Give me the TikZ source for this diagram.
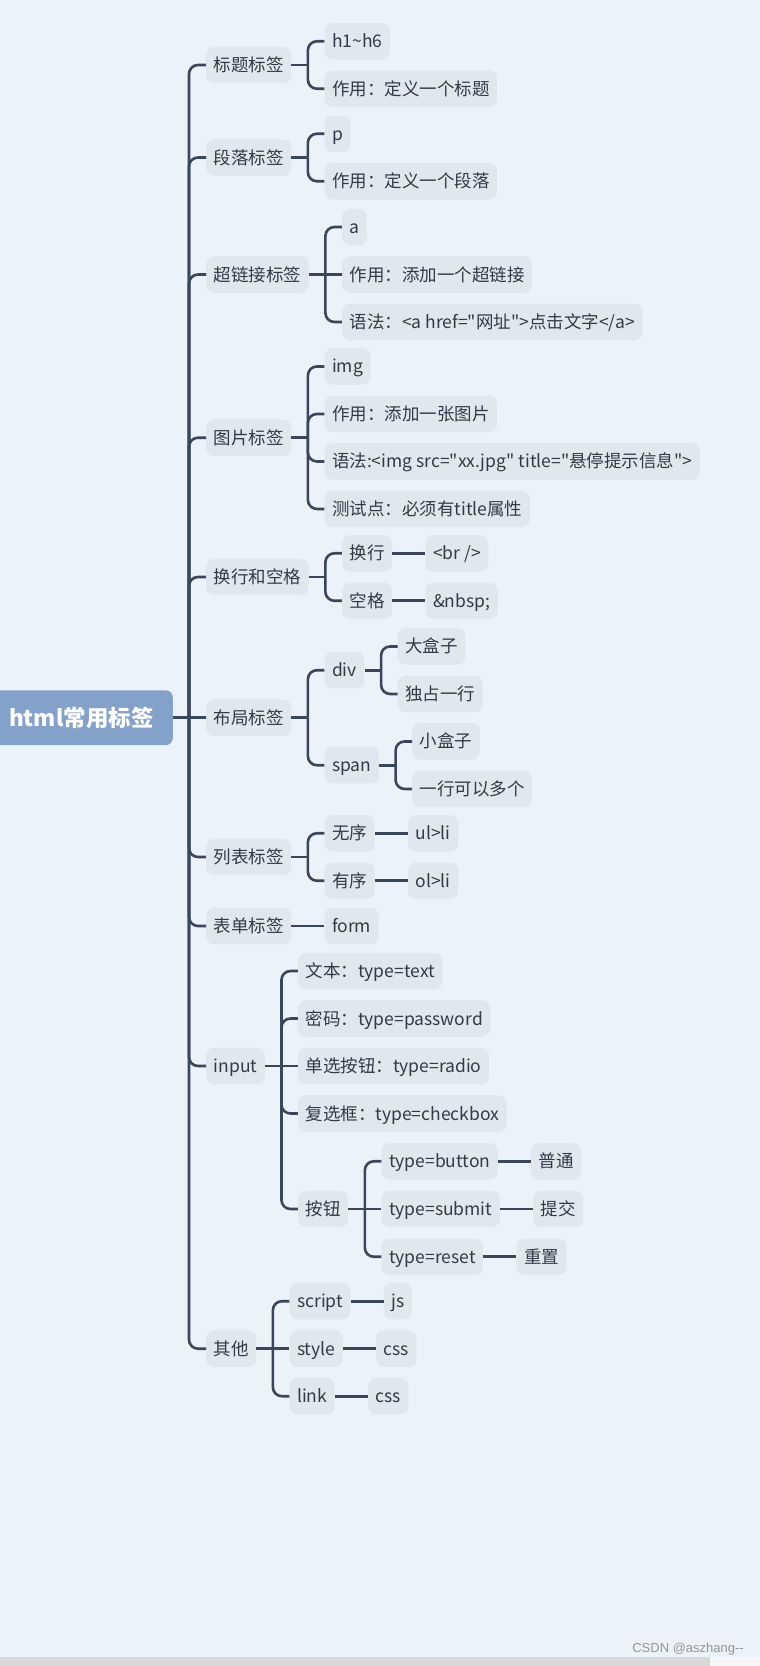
\documentclass[tikz,border=0pt]{standalone}
\usepackage{fontspec}
\setmainfont{Noto Sans CJK SC}[Ligatures=TeXOff]
\newfontfamily\wmfont{Liberation Sans}
\usetikzlibrary{calc}
\definecolor{bgc}{RGB}{236,242,250}
\definecolor{nodefill}{RGB}{225,231,239}
\definecolor{linec}{RGB}{58,70,90}
\definecolor{textc}{RGB}{50,58,72}
\definecolor{rootc}{RGB}{132,162,201}
\definecolor{wmc}{RGB}{150,150,150}
\definecolor{barc}{RGB}{216,216,216}
\definecolor{barc2}{RGB}{246,246,246}
\tikzset{
  box/.style={fill=nodefill, rounded corners=8pt, minimum height=36.5pt, inner xsep=7.5pt, inner ysep=0pt,
    text height=15.2pt, text depth=2.2pt, font=\fontsize{17.5}{20}\selectfont, text=textc, anchor=west},
  rootbox/.style={fill=rootc, rounded corners=7pt, minimum width=183pt, minimum height=54.7pt, inner sep=0pt,
    text height=19.5pt, text depth=2.8pt,
    text=white, font=\fontsize{22.5}{26}\selectfont\bfseries, anchor=east},
  conn/.style={draw=linec, line width=2.6pt},
  br/.style={conn, rounded corners=9pt},
}
\begin{document}
\begin{tikzpicture}[x=1pt,y=-1pt]
\fill[bgc] (0,0) rectangle (760,1666);
\useasboundingbox (0,0) rectangle (760,1666);
\fill[barc] (0,1657) rectangle (710,1666);
\fill[barc2] (710,1657) rectangle (760,1666);
\node[anchor=east, text=wmc, font=\wmfont\fontsize{13}{15}\selectfont, inner sep=0pt] (wm) at (744,1649) {CSDN @aszhang-{}-};

% root
\node[rootbox] (root) at (173,717.7) {html常用标签};
\coordinate (rj) at ($(root.east)+(16,0)$);

% level 1
\node[box] (l1) at (206,65) {标题标签};
\node[box] (l2) at (206,157.5) {段落标签};
\node[box] (l3) at (206,274.5) {超链接标签};
\node[box] (l4) at (206,437.7) {图片标签};
\node[box] (l5) at (206,577) {换行和空格};
\node[box] (l6) at (206,717.7) {布局标签};
\node[box] (l7) at (206,857) {列表标签};
\node[box] (l8) at (206,926) {表单标签};
\node[box] (l9) at (206,1066) {input};
\node[box] (l10) at (206,1348.7) {其他};

\draw[conn] (root.east) -- (rj);
\foreach \n in {l1,l2,l3,l4,l5,l7,l8,l9,l10} {\draw[br] (rj) |- (\n.west);}
\draw[conn] (rj) -- (l6.west);

% 标题标签
\node[box] (c11) at ($(l1.east)+(33,-23.75)$) {h1\textasciitilde h6};
\node[box] (c12) at ($(l1.east)+(33,23.75)$) {作用：定义一个标题};
\coordinate (j1) at ($(l1.east)+(16.5,0)$);
\draw[conn] (l1.east) -- (j1);
\draw[br] (j1) |- (c11.west);
\draw[br] (j1) |- (c12.west);

% 段落标签
\node[box] (c21) at ($(l2.east)+(33,-23.75)$) {p};
\node[box] (c22) at ($(l2.east)+(33,23.75)$) {作用：定义一个段落};
\coordinate (j2) at ($(l2.east)+(16.5,0)$);
\draw[conn] (l2.east) -- (j2);
\draw[br] (j2) |- (c21.west);
\draw[br] (j2) |- (c22.west);

% 超链接标签
\node[box] (c31) at ($(l3.east)+(33,-47.5)$) {a};
\node[box] (c32) at ($(l3.east)+(33,0)$) {作用：添加一个超链接};
\node[box] (c33) at ($(l3.east)+(33,47.5)$) {语法：<a href="网址">点击文字</a>};
\coordinate (j3) at ($(l3.east)+(16.5,0)$);
\draw[conn] (l3.east) -- (c32.west);
\draw[br] (j3) |- (c31.west);
\draw[br] (j3) |- (c33.west);

% 图片标签
\node[box] (c41) at ($(l4.east)+(33,-71.25)$) {img};
\node[box] (c42) at ($(l4.east)+(33,-23.75)$) {作用：添加一张图片};
\node[box] (c43) at ($(l4.east)+(33,23.75)$) {语法:<img src="xx.jpg" title="悬停提示信息">};
\node[box] (c44) at ($(l4.east)+(33,71.25)$) {测试点：必须有title属性};
\coordinate (j4) at ($(l4.east)+(16.5,0)$);
\draw[conn] (l4.east) -- (j4);
\foreach \n in {c41,c42,c43,c44} {\draw[br] (j4) |- (\n.west);}

% 换行和空格
\node[box] (c51) at ($(l5.east)+(33,-23.75)$) {换行};
\node[box] (c52) at ($(l5.east)+(33,23.75)$) {空格};
\node[box] (d51) at ($(c51.east)+(33,0)$) {<br />};
\node[box] (d52) at ($(c52.east)+(33,0)$) {\&nbsp;};
\coordinate (j5) at ($(l5.east)+(16.5,0)$);
\draw[conn] (l5.east) -- (j5);
\draw[br] (j5) |- (c51.west);
\draw[br] (j5) |- (c52.west);
\draw[conn] (c51.east) -- (d51.west);
\draw[conn] (c52.east) -- (d52.west);

% 布局标签
\node[box] (c61) at ($(l6.east)+(33,-47.5)$) {div};
\node[box] (c62) at ($(l6.east)+(33,47.5)$) {span};
\coordinate (j6) at ($(l6.east)+(16.5,0)$);
\draw[conn] (l6.east) -- (j6);
\draw[br] (j6) |- (c61.west);
\draw[br] (j6) |- (c62.west);
\node[box] (d611) at ($(c61.east)+(33,-23.75)$) {大盒子};
\node[box] (d612) at ($(c61.east)+(33,23.75)$) {独占一行};
\coordinate (j61) at ($(c61.east)+(16.5,0)$);
\draw[conn] (c61.east) -- (j61);
\draw[br] (j61) |- (d611.west);
\draw[br] (j61) |- (d612.west);
\node[box] (d621) at ($(c62.east)+(33,-23.75)$) {小盒子};
\node[box] (d622) at ($(c62.east)+(33,23.75)$) {一行可以多个};
\coordinate (j62) at ($(c62.east)+(16.5,0)$);
\draw[conn] (c62.east) -- (j62);
\draw[br] (j62) |- (d621.west);
\draw[br] (j62) |- (d622.west);

% 列表标签
\node[box] (c71) at ($(l7.east)+(33,-23.75)$) {无序};
\node[box] (c72) at ($(l7.east)+(33,23.75)$) {有序};
\node[box] (d71) at ($(c71.east)+(33,0)$) {ul>li};
\node[box] (d72) at ($(c72.east)+(33,0)$) {ol>li};
\coordinate (j7) at ($(l7.east)+(16.5,0)$);
\draw[conn] (l7.east) -- (j7);
\draw[br] (j7) |- (c71.west);
\draw[br] (j7) |- (c72.west);
\draw[conn] (c71.east) -- (d71.west);
\draw[conn] (c72.east) -- (d72.west);

% 表单标签
\node[box] (c81) at ($(l8.east)+(33,0)$) {form};
\draw[conn] (l8.east) -- (c81.west);

% input
\node[box] (c91) at ($(l9.east)+(33,-95)$) {文本：type=text};
\node[box] (c92) at ($(l9.east)+(33,-47.5)$) {密码：type=password};
\node[box] (c93) at ($(l9.east)+(33,0)$) {单选按钮：type=radio};
\node[box] (c94) at ($(l9.east)+(33,47.5)$) {复选框：type=checkbox};
\node[box] (c95) at ($(l9.east)+(33,143)$) {按钮};
\coordinate (j9) at ($(l9.east)+(16.5,0)$);
\draw[conn] (l9.east) -- (c93.west);
\foreach \n in {c91,c92,c94,c95} {\draw[br] (j9) |- (\n.west);}
\node[box] (d951) at ($(c95.east)+(33,-47.75)$) {type=button};
\node[box] (d952) at ($(c95.east)+(33,0)$) {type=submit};
\node[box] (d953) at ($(c95.east)+(33,47.75)$) {type=reset};
\coordinate (j95) at ($(c95.east)+(16.5,0)$);
\draw[conn] (c95.east) -- (d952.west);
\draw[br] (j95) |- (d951.west);
\draw[br] (j95) |- (d953.west);
\node[box] (e951) at ($(d951.east)+(33,0)$) {普通};
\node[box] (e952) at ($(d952.east)+(33,0)$) {提交};
\node[box] (e953) at ($(d953.east)+(33,0)$) {重置};
\draw[conn] (d951.east) -- (e951.west);
\draw[conn] (d952.east) -- (e952.west);
\draw[conn] (d953.east) -- (e953.west);

% 其他
\node[box] (c101) at ($(l10.east)+(33,-47.5)$) {script};
\node[box] (c102) at ($(l10.east)+(33,0)$) {style};
\node[box] (c103) at ($(l10.east)+(33,47.5)$) {link};
\coordinate (j10) at ($(l10.east)+(16.5,0)$);
\draw[conn] (l10.east) -- (c102.west);
\draw[br] (j10) |- (c101.west);
\draw[br] (j10) |- (c103.west);
\node[box] (d101) at ($(c101.east)+(33,0)$) {js};
\node[box] (d102) at ($(c102.east)+(33,0)$) {css};
\node[box] (d103) at ($(c103.east)+(33,0)$) {css};
\draw[conn] (c101.east) -- (d101.west);
\draw[conn] (c102.east) -- (d102.west);
\draw[conn] (c103.east) -- (d103.west);
\end{tikzpicture}
\end{document}
